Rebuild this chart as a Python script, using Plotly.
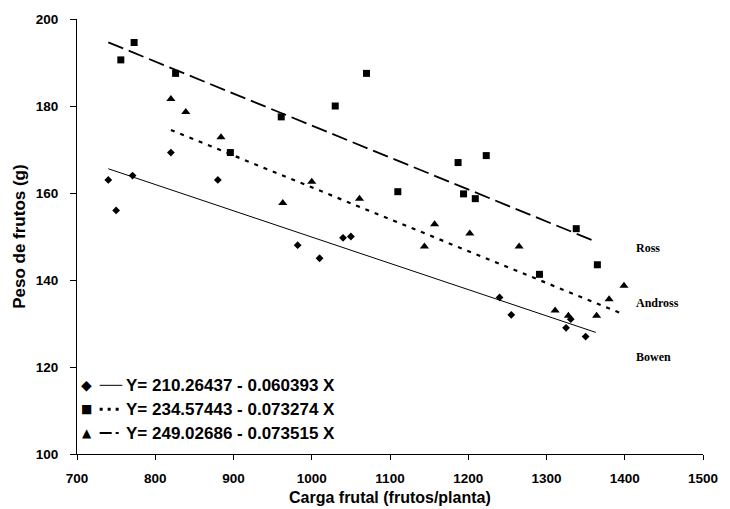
import plotly.graph_objects as go

# ---- data ----
bowen_x = [740, 750, 771, 820, 880, 982, 1010, 1040, 1050, 1240, 1255, 1325, 1331, 1350]
bowen_y = [163, 156, 164, 169.3, 163, 148, 145, 149.7, 150, 136, 132, 129, 131, 127]

ross_x = [756, 773, 826, 896, 961, 1030, 1070, 1110, 1187, 1194, 1209, 1223, 1291, 1338, 1365]
ross_y = [190.6, 194.6, 187.5, 169.3, 177.5, 180, 187.5, 160.3, 167, 159.8, 158.7, 168.6, 141.3, 151.8, 143.5]

andross_x = [820, 839, 884, 963, 1000, 1061, 1144, 1157, 1202, 1265, 1311, 1328, 1364, 1380, 1399]
andross_y = [181.6, 178.6, 172.8, 157.7, 162.6, 158.7, 147.7, 152.8, 150.7, 147.7, 133, 131.8, 131.8, 135.6, 138.7]

eq_intercepts = [210.26437, 234.57443, 249.02686]
eq_slopes = [-0.060393, -0.073274, -0.073515]
eq_x_start = [740, 820, 740]
eq_x_end = [1363, 1395, 1363]
eq_labels = ["Y= 210.26437 - 0.060393 X", "Y= 234.57443 - 0.073274 X", "Y= 249.02686 - 0.073515 X"]

cultivars = ["Ross", "Andross", "Bowen"]
cultivar_label_y = [147.4, 134.6, 122.3]

x_ticks = [700, 800, 900, 1000, 1100, 1200, 1300, 1400, 1500]
y_ticks = [100, 120, 140, 160, 180, 200]

# ---- figure ----
W, H = 730, 509
L, R, T, B = 77, 18, 17, 55
fig = go.Figure()

fig.add_trace(go.Scatter(x=bowen_x, y=bowen_y, mode="markers",
                         marker=dict(symbol="diamond", size=6, color="black")))
fig.add_trace(go.Scatter(x=ross_x, y=ross_y, mode="markers",
                         marker=dict(symbol="square", size=7, color="black")))
fig.add_trace(go.Scatter(x=andross_x, y=andross_y, mode="markers",
                         marker=dict(symbol="triangle-up", size=8, color="black")))

line_styles = [dict(color="black", width=1),
               dict(color="black", width=2.2, dash="4px,6px"),
               dict(color="black", width=1.8, dash="16px,6px")]
for a, b, xs, xe, ls in zip(eq_intercepts, eq_slopes, eq_x_start, eq_x_end, line_styles):
    fig.add_trace(go.Scatter(x=[xs, xe], y=[a + b * xs, a + b * xe], mode="lines", line=ls))

def px2paper(px, py):
    return (px - L) / (W - L - R), (H - B - py) / (H - T - B)

annotations = []
# cultivar labels
for name, yy in zip(cultivars, cultivar_label_y):
    annotations.append(dict(x=1412, y=yy, xref="x", yref="y", text="<b>" + name + "</b>",
                            showarrow=False, xanchor="left", yanchor="middle",
                            font=dict(family="Liberation Serif", size=12, color="black")))

# custom legend
shapes = []
glyphs = ["◆", "■", "▲"]
glyph_sizes = [14, 12, 12]
legend_dash = ["solid", "3px,5px", "12px,4px,3px,10px"]
legend_width = [1, 3, 2]
row_y = [385, 409, 433]
for g, gs, txt, ry, dsh, lw in zip(glyphs, glyph_sizes, eq_labels, row_y, legend_dash, legend_width):
    gx, gy = px2paper(87, ry)
    annotations.append(dict(x=gx, y=gy, xref="paper", yref="paper", text=g, showarrow=False,
                            xanchor="center", yanchor="middle",
                            font=dict(family="DejaVu Sans", size=gs, color="black")))
    x0, y0 = px2paper(100, ry)
    x1, _ = px2paper(123, ry)
    shapes.append(dict(type="line", xref="paper", yref="paper", x0=x0, x1=x1, y0=y0, y1=y0,
                       line=dict(color="black", width=lw, dash=dsh)))
    tx, ty = px2paper(125, ry)
    annotations.append(dict(x=tx, y=ty, xref="paper", yref="paper", text="<b>" + txt + "</b>",
                            showarrow=False, xanchor="left", yanchor="middle",
                            font=dict(family="Liberation Sans", size=17, color="black")))

# axis titles
annotations.append(dict(x=px2paper(395, 0)[0], y=px2paper(0, 498)[1], xref="paper", yref="paper",
                        text="<b>Carga frutal (frutos/planta)</b>", showarrow=False,
                        xanchor="center", yanchor="middle",
                        font=dict(family="Liberation Sans", size=16, color="black")))
annotations.append(dict(x=px2paper(18, 0)[0], y=px2paper(0, 235)[1], xref="paper", yref="paper",
                        text="<b>Peso de frutos (g)</b>", showarrow=False, textangle=-90,
                        xanchor="center", yanchor="middle",
                        font=dict(family="Liberation Sans", size=17, color="black")))

tickfont = dict(family="Liberation Sans", size=13.5, color="black", weight="bold")
fig.update_layout(
    width=W, height=H,
    margin=dict(l=L, r=R, t=T, b=B),
    paper_bgcolor="white", plot_bgcolor="white",
    showlegend=False,
    annotations=annotations, shapes=shapes,
    xaxis=dict(range=[700, 1500], tickvals=x_ticks,
               ticktext=["<b>%d</b>" % v for v in x_ticks],
               showgrid=False, zeroline=False,
               showline=True, linecolor="black", linewidth=1,
               ticks="outside", ticklen=5, tickcolor="black", tickwidth=1,
               ticklabelstandoff=7, tickfont=tickfont),
    yaxis=dict(range=[100, 200], tickvals=y_ticks,
               ticktext=["<b>%d</b>" % v for v in y_ticks],
               showgrid=False, zeroline=False,
               showline=True, linecolor="black", linewidth=1,
               ticks="outside", ticklen=6, tickcolor="black", tickwidth=1,
               ticklabelstandoff=9, tickfont=tickfont),
)

fig.write_html("out.html")
